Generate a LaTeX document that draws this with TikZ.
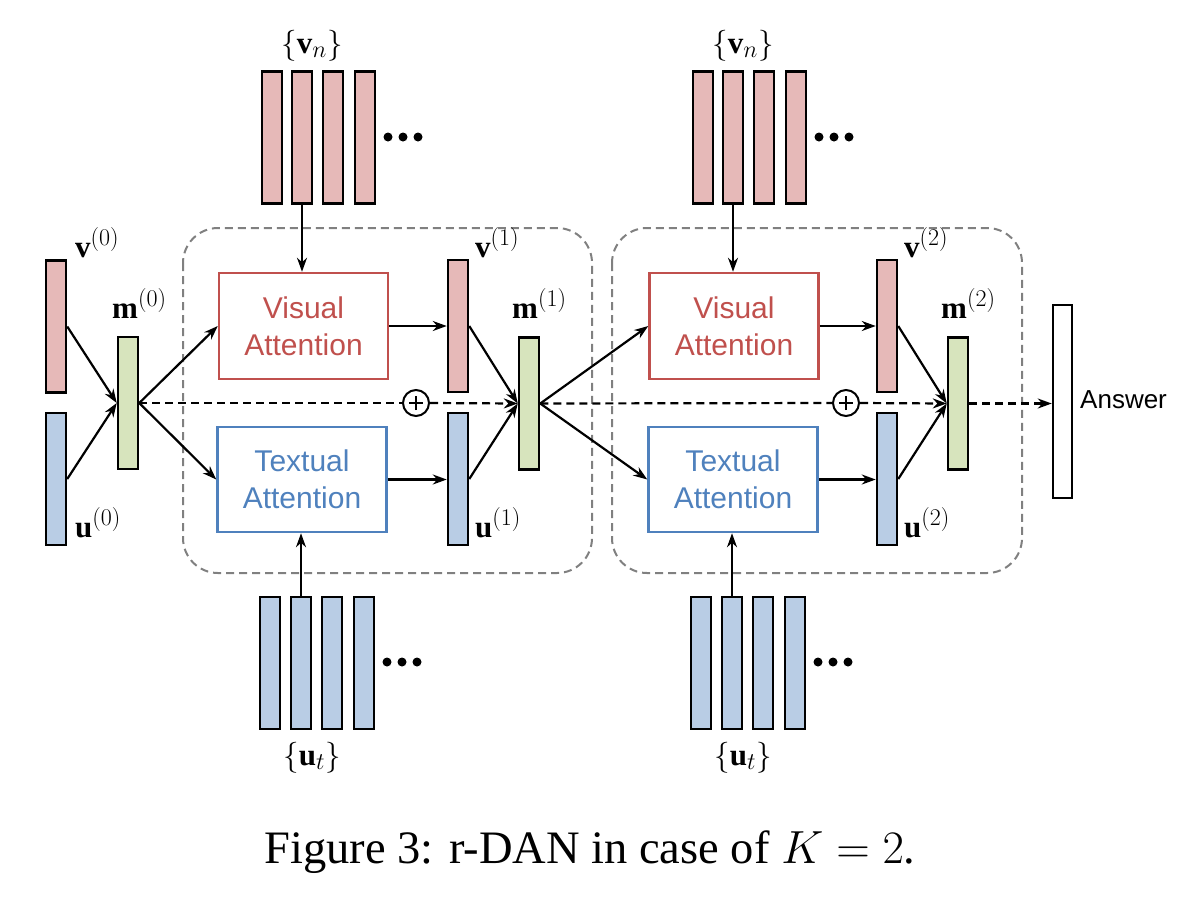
\RequirePackage{fix-cm}
\documentclass[tikz,border=0pt]{standalone}
\usepackage{amsmath}
\usepackage{fontspec}
\setmainfont{Liberation Serif}
\newfontfamily\arialf{Liberation Sans}
\DeclareMathSizes{31}{31}{24}{18}
\usetikzlibrary{arrows.meta}
\definecolor{pinkf}{HTML}{E6B9B8}
\definecolor{bluef}{HTML}{B9CDE5}
\definecolor{greenf}{HTML}{D7E4BD}
\definecolor{redb}{HTML}{C0504D}
\definecolor{blueb}{HTML}{4F81BD}
\definecolor{grayb}{HTML}{808080}
\begin{document}
\begin{tikzpicture}[x=1pt,y=-1pt,
  bar/.style={draw=black,line width=2.5pt,minimum width=20pt,minimum height=132pt,inner sep=0pt},
  pinkbar/.style={bar,fill=pinkf},
  bluebar/.style={bar,fill=bluef},
  greenbar/.style={bar,fill=greenf},
  vbox/.style={draw=redb,line width=2.5pt,minimum width=169pt,minimum height=106pt,inner sep=0pt,align=center,text=redb,font=\arialf\fontsize{30}{37}\selectfont},
  tbox/.style={draw=blueb,line width=2.5pt,minimum width=169pt,minimum height=105pt,inner sep=0pt,align=center,text=blueb,font=\arialf\fontsize{30}{37}\selectfont},
  grp/.style={draw=grayb,line width=2pt,dash pattern=on 8pt off 5pt,rounded corners=35pt},
  arr/.style={line width=2.2pt,-{Stealth[length=14pt,width=10pt]}},
  darr/.style={line width=2.2pt,dash pattern=on 8pt off 5pt,-{Stealth[length=14pt,width=10pt]}},
  dln/.style={line width=2.2pt,dash pattern=on 8pt off 5pt},
  mlab/.style={anchor=base west,inner sep=0pt,font=\fontsize{31}{36}\selectfont},
  slab/.style={anchor=base,inner sep=0pt,font=\fontsize{31}{36}\selectfont},
  plus/.style={circle,draw=black,line width=2pt,minimum size=26pt,inner sep=0pt,
    path picture={\draw[line width=2pt] ([xshift=-7pt]path picture bounding box.center) -- ([xshift=7pt]path picture bounding box.center);
                  \draw[line width=2pt] ([yshift=-7pt]path picture bounding box.center) -- ([yshift=7pt]path picture bounding box.center);}},
  dot/.style={circle,fill=black,minimum size=9pt,inner sep=0pt}
]
\useasboundingbox (0,0) rectangle (1190,914);

% group boxes
\draw[grp] (183,228) rectangle (592,573);
\draw[grp] (612,228) rectangle (1022,573);

% initial bars
\node[pinkbar]  (v0) at (56,326.5) {};
\node[bluebar]  (u0) at (56,479) {};
\node[greenbar] (m0) at (128,403) {};

% step 1
\node[vbox] (V1) at (303.5,326) {Visual\\Attention};
\node[tbox] (T1) at (302,479.5) {Textual\\Attention};
\node[pinkbar]  (v1) at (458,326) {};
\node[bluebar]  (u1) at (458,479) {};
\node[greenbar] (m1) at (529,403.5) {};
\node[plus] (p1) at (416,403) {};

% step 2
\node[vbox] (V2) at (734,326) {Visual\\Attention};
\node[tbox] (T2) at (733,479.5) {Textual\\Attention};
\node[pinkbar]  (v2) at (887,326) {};
\node[bluebar]  (u2) at (887,479) {};
\node[greenbar] (m2) at (958,403.5) {};
\node[plus] (p2) at (846,403) {};

% answer
\node[draw=black,line width=2.5pt,minimum width=19pt,minimum height=193pt,inner sep=0pt,fill=white] (ans) at (1062.5,401.5) {};
\node[anchor=base west,inner sep=0pt,font=\arialf\fontsize{26}{30}\selectfont] (anstxt) at (1080,408) {Answer};

% top bars set 1
\node[pinkbar] (a1) at (272,137.5) {};
\node[pinkbar] (a2) at (302,137.5) {};
\node[pinkbar] (a3) at (333,137.5) {};
\node[pinkbar] (a4) at (365,137.5) {};
\node[dot] (ad1) at (388,137) {};
\node[dot] (ad2) at (403,137) {};
\node[dot] (ad3) at (418,137) {};
% top bars set 2
\node[pinkbar] (b1) at (703,137.5) {};
\node[pinkbar] (b2) at (733,137.5) {};
\node[pinkbar] (b3) at (764,137.5) {};
\node[pinkbar] (b4) at (796,137.5) {};
\node[dot] (bd1) at (819,137) {};
\node[dot] (bd2) at (834,137) {};
\node[dot] (bd3) at (849,137) {};
% bottom bars set 1
\node[bluebar] (c1) at (270,663) {};
\node[bluebar] (c2) at (301,663) {};
\node[bluebar] (c3) at (332,663) {};
\node[bluebar] (c4) at (364,663) {};
\node[dot] (cd1) at (387,662) {};
\node[dot] (cd2) at (402,662) {};
\node[dot] (cd3) at (417,662) {};
% bottom bars set 2
\node[bluebar] (e1) at (701,663) {};
\node[bluebar] (e2) at (732,663) {};
\node[bluebar] (e3) at (763,663) {};
\node[bluebar] (e4) at (795,663) {};
\node[dot] (ed1) at (818,662) {};
\node[dot] (ed2) at (833,662) {};
\node[dot] (ed3) at (848,662) {};

% labels
\node[mlab] (lv0) at (75,257) {$\mathbf{v}^{(0)}$};
\node[mlab] (lu0) at (75,537) {$\mathbf{u}^{(0)}$};
\node[mlab] (lm0) at (112,318) {$\mathbf{m}^{(0)}$};
\node[mlab] (lv1) at (475,257) {$\mathbf{v}^{(1)}$};
\node[mlab] (lu1) at (475,537) {$\mathbf{u}^{(1)}$};
\node[mlab] (lm1) at (512,318) {$\mathbf{m}^{(1)}$};
\node[mlab] (lv2) at (904,257) {$\mathbf{v}^{(2)}$};
\node[mlab] (lu2) at (904,537) {$\mathbf{u}^{(2)}$};
\node[mlab] (lm2) at (941,318) {$\mathbf{m}^{(2)}$};
\node[slab] (lvn1) at (312,53) {$\{\mathbf{v}_n\}$};
\node[slab] (lvn2) at (743,53) {$\{\mathbf{v}_n\}$};
\node[slab] (lut1) at (312,765) {$\{\mathbf{u}_t\}$};
\node[slab] (lut2) at (743,765) {$\{\mathbf{u}_t\}$};

% connectors
\draw[arr] (v0.east) -- (m0.west);
\draw[arr] (u0.east) -- (m0.west);
\draw[arr] (m0.east) -- (V1.west);
\draw[arr] (m0.east) -- (T1.west);
\draw[dln] (m0.east) -- (p1.west);
\draw[darr] (p1.east) -- (m1.west);
\draw[arr] (V1.east) -- (V1.east -| v1.west);
\draw[arr] (T1.east) -- (T1.east -| u1.west);
\draw[arr] (v1.east) -- (m1.west);
\draw[arr] (u1.east) -- (m1.west);
\draw[arr] (a2.south) -- (a2.south |- V1.north);
\draw[arr] (c2.north) -- (c2.north |- T1.south);

\draw[arr] (m1.east) -- (V2.west);
\draw[arr] (m1.east) -- (T2.west);
\draw[dln] (m1.east) -- (p2.west);
\draw[darr] (p2.east) -- (m2.west);
\draw[arr] (V2.east) -- (V2.east -| v2.west);
\draw[arr] (T2.east) -- (T2.east -| u2.west);
\draw[arr] (v2.east) -- (m2.west);
\draw[arr] (u2.east) -- (m2.west);
\draw[arr] (b2.south) -- (b2.south |- V2.north);
\draw[arr] (e2.north) -- (e2.north |- T2.south);
\draw[darr] (m2.east) -- (m2.east -| ans.west);

% caption
\node[anchor=base,inner sep=0pt,font=\fontsize{46.5}{52}\selectfont] (cap) at (590,863) {Figure 3: r-DAN in case of $K=2$.};
\end{tikzpicture}
\end{document}
